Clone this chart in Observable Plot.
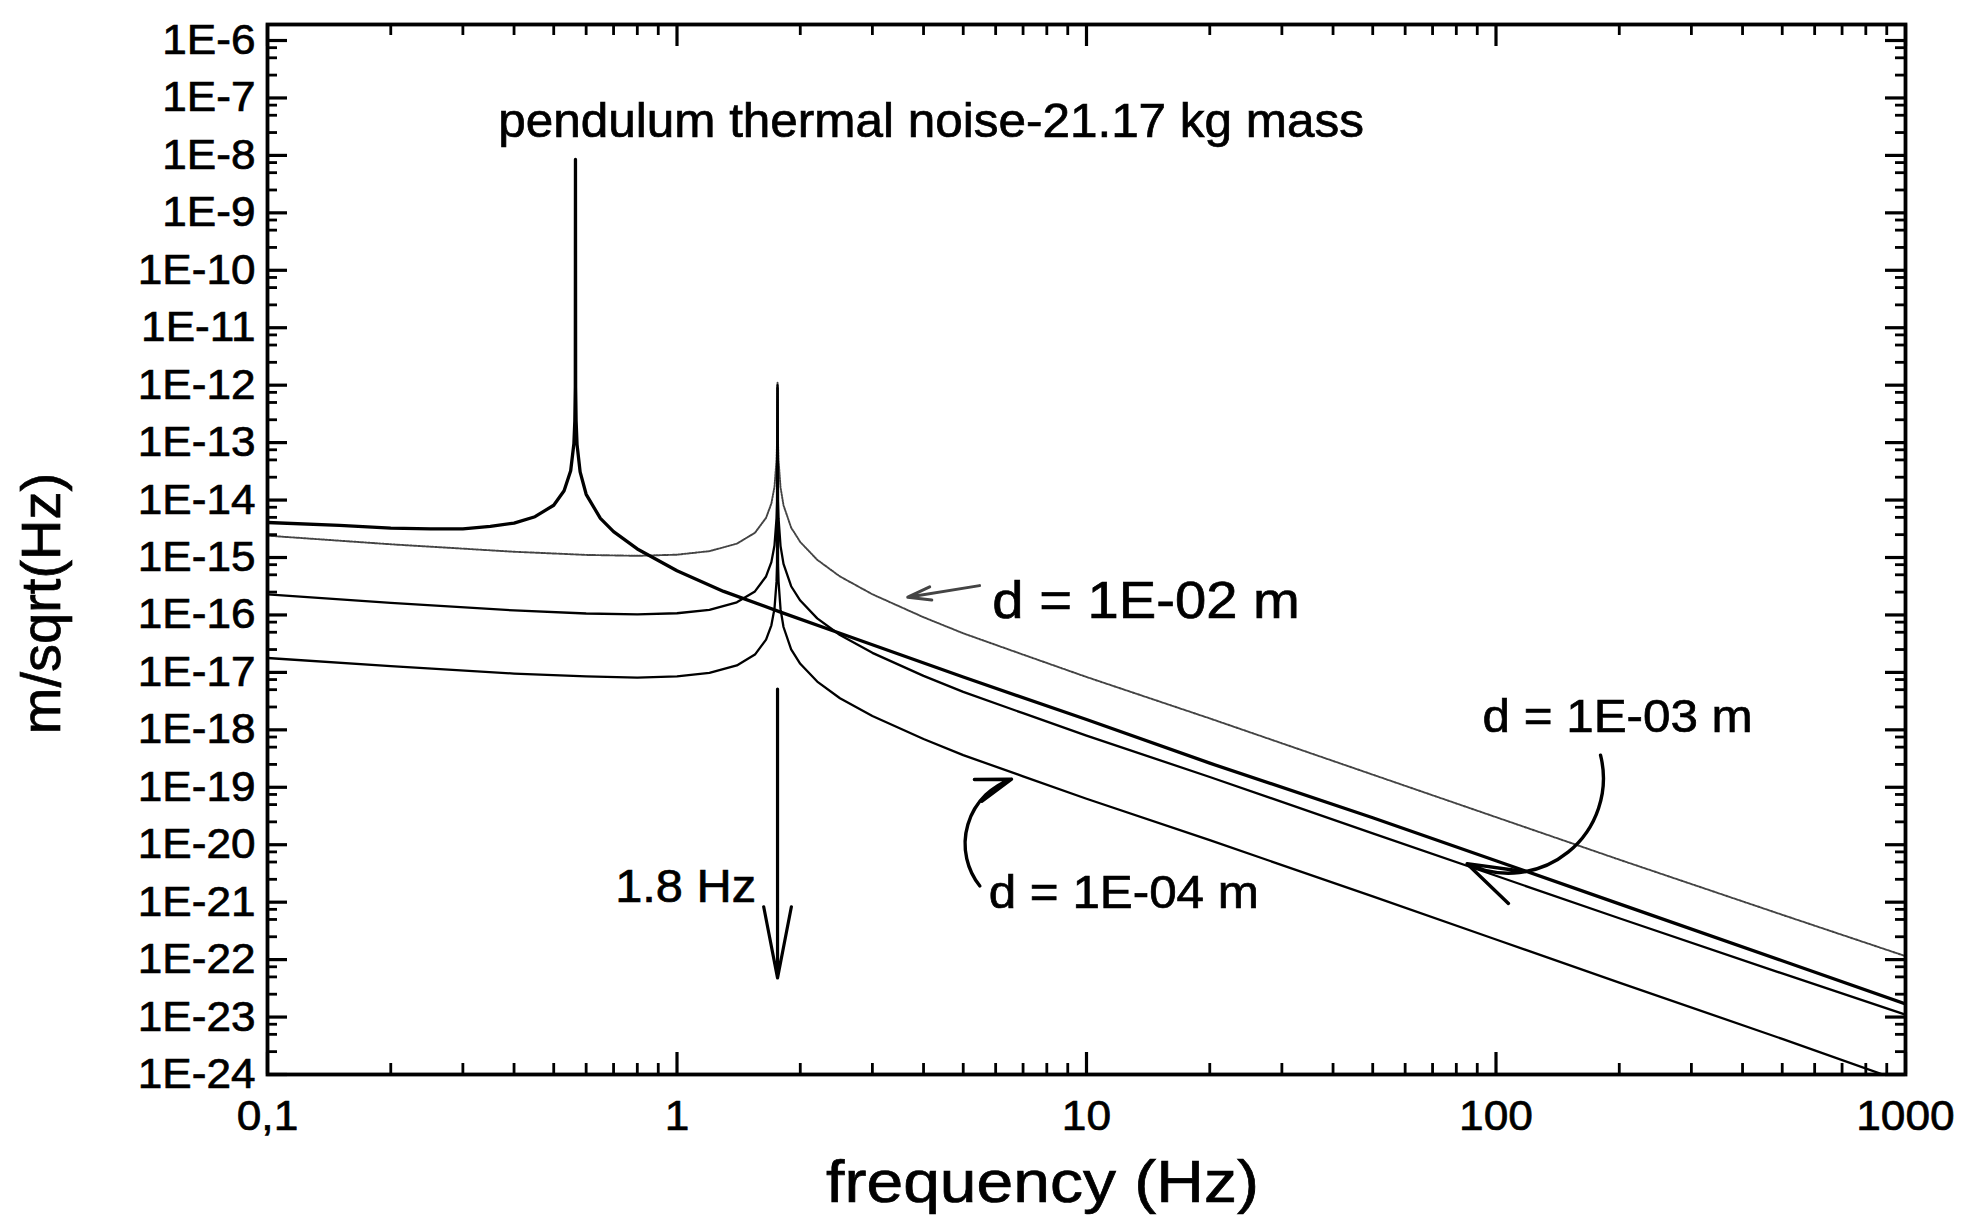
<!DOCTYPE html>
<html>
<head>
<meta charset="utf-8">
<script src="https://cdn.jsdelivr.net/npm/d3@7"></script>
<script src="https://cdn.jsdelivr.net/npm/@observablehq/plot@0.6"></script>
<style>
html, body { margin: 0; padding: 0; background: #fff; }
#chart svg { display: block; }
</style>
</head>
<body>
<div id="chart"></div>
<script>
// ---- data ----
// pendulum thermal noise (21.17 kg mass), resonance near 0.565 Hz
const fPend = [0.1, 0.15, 0.2, 0.25, 0.3, 0.35, 0.4, 0.45, 0.5, 0.53, 0.55, 0.56, 0.563, 0.5645, 0.565, 0.5655, 0.567, 0.57, 0.58, 0.6, 0.65, 0.7, 0.8, 1.0, 1.3, 1.79, 2.5, 5, 10, 20, 50, 100, 200, 500, 1000];
const aPend = [4.07e-15, 3.63e-15, 3.24e-15, 3.16e-15, 3.16e-15, 3.47e-15, 3.98e-15, 5.13e-15, 8.13e-15, 1.45e-14, 3.24e-14, 9.55e-14, 2.40e-13, 9.33e-13, 8.51e-9, 9.33e-13, 2.40e-13, 9.33e-14, 3.09e-14, 1.26e-14, 4.79e-15, 2.82e-15, 1.41e-15, 5.89e-16, 2.57e-16, 1.12e-16, 4.79e-17, 8.32e-18, 1.51e-18, 2.63e-19, 2.95e-20, 5.25e-21, 9.33e-22, 9.55e-23, 1.70e-23];

// curves with the 1.8 Hz resonance
const fRes = [0.1, 0.2, 0.4, 0.6, 0.8, 1.0, 1.2, 1.4, 1.55, 1.65, 1.70, 1.73, 1.75, 1.755, 1.76, 1.765, 1.77, 1.79, 1.82, 1.9, 2.0, 2.2, 2.5, 3, 4, 5, 7, 10, 20, 50, 100, 200, 500, 1000];
const aD1e02 = [2.40e-15, 1.70e-15, 1.26e-15, 1.11e-15, 1.07e-15, 1.12e-15, 1.29e-15, 1.74e-15, 2.69e-15, 4.90e-15, 8.71e-15, 1.70e-14, 5.01e-14, 1.00e-13, 1.10e-12, 1.00e-13, 5.01e-14, 1.66e-14, 8.13e-15, 3.31e-15, 1.86e-15, 9.12e-16, 4.68e-16, 2.29e-16, 9.12e-17, 4.79e-17, 2.04e-17, 8.32e-18, 1.58e-18, 1.66e-19, 3.02e-20, 5.50e-21, 6.03e-22, 1.15e-22];
const aD1e03 = [2.29e-16, 1.62e-16, 1.20e-16, 1.06e-16, 1.02e-16, 1.07e-16, 1.23e-16, 1.66e-16, 2.57e-16, 4.68e-16, 8.32e-16, 1.62e-15, 4.79e-15, 9.55e-15, 1.00e-12, 9.55e-15, 4.79e-15, 1.58e-15, 7.76e-16, 3.16e-16, 1.78e-16, 8.71e-17, 4.47e-17, 2.19e-17, 8.71e-18, 4.57e-18, 1.95e-18, 7.94e-19, 1.51e-19, 1.58e-20, 2.88e-21, 5.25e-22, 5.75e-23, 1.10e-23];
const aD1e04 = [1.78e-17, 1.29e-17, 9.55e-18, 8.51e-18, 8.13e-18, 8.51e-18, 9.77e-18, 1.32e-17, 2.04e-17, 3.72e-17, 6.61e-17, 1.29e-16, 3.80e-16, 7.59e-16, 8.91e-13, 7.59e-16, 3.80e-16, 1.26e-16, 6.17e-17, 2.51e-17, 1.41e-17, 6.92e-18, 3.55e-18, 1.74e-18, 6.92e-19, 3.63e-19, 1.55e-19, 6.31e-20, 1.20e-20, 1.26e-21, 2.24e-22, 3.98e-23, 4.17e-24, 7.24e-25];

// axes
const xTickValues = [0.1, 1, 10, 100, 1000];
const xTickLabels = ["0,1", "1", "10", "100", "1000"];
const xMinorMult = [2, 3, 4, 5, 6, 7, 8, 9];
const yTickValues = [1e-6, 1e-7, 1e-8, 1e-9, 1e-10, 1e-11, 1e-12, 1e-13, 1e-14, 1e-15, 1e-16, 1e-17, 1e-18, 1e-19, 1e-20, 1e-21, 1e-22, 1e-23, 1e-24];
const yTickLabels = ["1E-6", "1E-7", "1E-8", "1E-9", "1E-10", "1E-11", "1E-12", "1E-13", "1E-14", "1E-15", "1E-16", "1E-17", "1E-18", "1E-19", "1E-20", "1E-21", "1E-22", "1E-23", "1E-24"];
const yMinorMult = [2.5, 5, 7.5];

// annotations (anchored in data space)
const noteText = ["pendulum thermal noise-21.17 kg mass", "d = 1E-02 m", "d = 1E-03 m", "d = 1E-04 m", "1.8 Hz"];
const noteF = [0.366, 5.89, 92.7, 5.77, 1.56];
const noteA = [3.9e-8, 1.74e-16, 1.66e-18, 1.45e-21, 1.8e-21];
const noteAnchor = ["start", "start", "start", "start", "end"];

const arrowF1 = [5.48, 180, 5.49, 1.76];
const arrowA1 = [3.24e-16, 3.63e-19, 1.91e-21, 5.13e-18];
const arrowF2 = [3.66, 85, 6.56, 1.76];
const arrowA2 = [2.04e-16, 4.68e-21, 1.38e-19, 4.79e-23];

// ---- styling ----
const noteFontSize = [48, 52, 47, 47, 46];
// horizontal stretch of the scanned lettering
const textStretch = new Map([
  ["pendulum thermal noise-21.17 kg mass", 1.03],
  ["d = 1E-02 m", 1.08],
  ["d = 1E-03 m", 1.05],
  ["d = 1E-04 m", 1.05],
  ["1.8 Hz", 1.06],
  ["frequency (Hz)", 1.1]
]);
const yTickStretch = 1.05, xTickStretch = 1.03;

// ---- layout ----
const W = 1969, H = 1222;
const mL = 267, mR = 64, mT = 24, mB = 148;
const plotW = W - mL - mR, plotH = H - mT - mB;

const toRows = (fs, as) => fs.map((f, i) => ({f, a: as[i]}));
const pend = toRows(fPend, aPend);
const d02 = toRows(fRes, aD1e02);
const d03 = toRows(fRes, aD1e03);
const d04 = toRows(fRes, aD1e04);

const xMinor = xTickValues.slice(0, -1).flatMap(d => xMinorMult.map(m => d * m));
const yMinor = yTickValues.slice(1).flatMap(d => yMinorMult.map(m => d * m));

const notes = noteText.map((t, i) => ({t, f: noteF[i], a: noteA[i], anchor: noteAnchor[i], size: noteFontSize[i]}));
const arrows = arrowF1.map((f, i) => ({f1: f, a1: arrowA1[i], f2: arrowF2[i], a2: arrowA2[i]}));

const font = "'Liberation Sans', Arial, Helvetica, sans-serif";

const chart = Plot.plot({
  width: W,
  height: H,
  marginLeft: mL, marginRight: mR, marginTop: mT, marginBottom: mB,
  style: {fontFamily: font, fontSize: "42px", color: "#000", background: "#fff", overflow: "visible"},
  x: {type: "log", domain: [0.1, 1000]},
  y: {type: "log", domain: [1e-24, 1.9e-6]},
  marks: [
    // curves
    Plot.line(d02, {x: "f", y: "a", stroke: "#444", strokeWidth: 1.9, strokeDasharray: "1.6,1.2", clip: true}),
    Plot.line(d03, {x: "f", y: "a", stroke: "#000", strokeWidth: 2.3, clip: true}),
    Plot.line(d04, {x: "f", y: "a", stroke: "#000", strokeWidth: 2.3, clip: true}),
    Plot.line(pend, {x: "f", y: "a", stroke: "#000", strokeWidth: 3.3, clip: true}),

    // ticks (inward, mirrored)
    Plot.tickY(yTickValues, {y: d => d, insetRight: plotW - 20, strokeWidth: 3.2}),
    Plot.tickY(yTickValues, {y: d => d, insetLeft: plotW - 20, strokeWidth: 3.2}),
    Plot.tickY(yMinor, {y: d => d, insetRight: plotW - 10, strokeWidth: 2.8}),
    Plot.tickY(yMinor, {y: d => d, insetLeft: plotW - 10, strokeWidth: 2.8}),
    Plot.tickX(xTickValues, {x: d => d, insetTop: plotH - 22, strokeWidth: 3.2}),
    Plot.tickX(xTickValues, {x: d => d, insetBottom: plotH - 22, strokeWidth: 3.2}),
    Plot.tickX(xMinor, {x: d => d, insetTop: plotH - 11, strokeWidth: 2.8}),
    Plot.tickX(xMinor, {x: d => d, insetBottom: plotH - 11, strokeWidth: 2.8}),

    // axes labels
    Plot.axisY({ticks: yTickValues, tickSize: 0, tickPadding: 12, fontSize: 42,
      tickFormat: d => yTickLabels[yTickValues.indexOf(d)], label: null}),
    Plot.axisX({ticks: xTickValues, tickSize: 0, tickPadding: 25, fontSize: 43,
      tickFormat: d => xTickLabels[xTickValues.indexOf(d)], label: null}),
    Plot.frame({stroke: "#000", strokeWidth: 3.8}),

    // axis titles
    Plot.text(["frequency (Hz)"], {frameAnchor: "bottom", textAnchor: "middle", dx: -44, dy: 127, fontSize: 60, text: d => d}),
    Plot.text(["m/sqrt(Hz)"], {frameAnchor: "left", textAnchor: "middle", lineAnchor: "middle", rotate: -90, dx: -225, dy: 54, fontSize: 56, text: d => d}),

    // annotations
    Plot.text(notes.filter(d => d.anchor === "start"), {x: "f", y: "a", text: "t", textAnchor: "start", fontSize: "size"}),
    Plot.text(notes.filter(d => d.anchor === "end"), {x: "f", y: "a", text: "t", textAnchor: "end", fontSize: "size"}),

    Plot.arrow([arrows[0]], {x1: "f1", y1: "a1", x2: "f2", y2: "a2", stroke: "#444", strokeWidth: 3, headLength: 22, headAngle: 32}),
    Plot.arrow([arrows[1]], {x1: "f1", y1: "a1", x2: "f2", y2: "a2", bend: 65, stroke: "#000", strokeWidth: 3.4, headLength: 28, headAngle: 36}),
    Plot.arrow([arrows[2]], {x1: "f1", y1: "a1", x2: "f2", y2: "a2", bend: 55, stroke: "#000", strokeWidth: 3.4, headLength: 24, headAngle: 36}),
    Plot.arrow([arrows[3]], {x1: "f1", y1: "a1", x2: "f2", y2: "a2", stroke: "#000", strokeWidth: 3.2, headLength: 34, headAngle: 22})
  ]
});

document.getElementById("chart").appendChild(chart);

// scanned lettering: slightly heavier and wider
chart.querySelectorAll("text").forEach(el => {
  const t = el.textContent;
  let s = textStretch.get(t);
  if (s === undefined) {
    if (yTickLabels.includes(t)) s = yTickStretch;
    else if (xTickLabels.includes(t)) s = xTickStretch;
    else s = 1;
  }
  el.setAttribute("stroke", "#000");
  el.setAttribute("stroke-width", "0.7");
  if (s !== 1) {
    const L = el.getComputedTextLength();
    el.setAttribute("textLength", (L * s).toFixed(1));
    el.setAttribute("lengthAdjust", "spacingAndGlyphs");
  }
});
</script>
</body>
</html>
